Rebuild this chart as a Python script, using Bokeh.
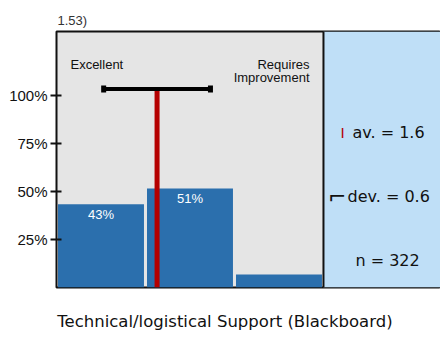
from bokeh.plotting import figure
from bokeh.models import Range1d, FixedTicker, BoxAnnotation, Span, ColumnDataSource
from bokeh.core.properties import value
from bokeh.embed import file_html
from bokeh.resources import INLINE

# data
categories = [1, 2, 3]
shares = [0.434, 0.516, 0.068]
share_labels = ["43%", "51%", ""]
mean_value = 1.63
std_value = 0.6
n_count = 322
tick_values = [0.25, 0.5, 0.75, 1.0]
tick_labels = {0.25: "25%", 0.5: "50%", 0.75: "75%", 1.0: "100%"}
title_text = "1.53)"
xlabel_text = "Technical/logistical Support (Blackboard)"
left_pole = "Excellent"
right_pole = ["Requires", "Improvement"]

FONT = "Liberation Sans"
FONT2 = "DejaVu Sans"
BAR = "#2b6fad"
RED = "#b50000"
GRAY = "#e5e5e5"
BLUE = "#bfdff7"
INK = "#111111"

p = figure(width=440, height=333, output_backend="svg", toolbar_location=None,
           x_range=Range1d(0.5, 4.815), y_range=Range1d(0, 1.333),
           min_border_left=56, min_border_right=0, min_border_top=31, min_border_bottom=46)
p.background_fill_color = GRAY
p.border_fill_color = "white"
p.grid.visible = False
p.outline_line_color = INK
p.outline_line_width = 2

p.title.text = title_text
p.title.text_font = FONT
p.title.text_font_size = "13px"
p.title.text_font_style = "normal"
p.title.text_color = "#333333"
p.title.offset = 1
p.title.standoff = 8

xax = p.xaxis[0]
xax.ticker = FixedTicker(ticks=[])
xax.major_tick_in = 0
xax.major_tick_out = 0
xax.minor_tick_line_color = None
xax.axis_line_color = None
xax.major_label_standoff = 0
# trailing no-break spaces shift the centred label to the left, as in the reference
xax.axis_label = xlabel_text + "\u00a0" * 9
xax.axis_label_text_font = FONT2
xax.axis_label_text_font_size = "16.5px"
xax.axis_label_text_font_style = "normal"
xax.axis_label_text_color = INK
xax.axis_label_standoff = 24

p.add_layout(BoxAnnotation(left=3.5, fill_color=BLUE, fill_alpha=1, line_color=None, level="underlay"))
p.add_layout(Span(location=3.5, dimension="height", line_color=INK, line_width=2))

yax = p.yaxis[0]
yax.ticker = FixedTicker(ticks=tick_values)
yax.major_label_overrides = tick_labels
yax.major_label_text_font = FONT
yax.major_label_text_font_size = "15px"
yax.major_label_text_color = INK
yax.major_tick_in = 5
yax.major_tick_out = 6
yax.major_tick_line_width = 2
yax.major_tick_line_color = INK
yax.minor_tick_line_color = None
yax.axis_line_color = None
yax.major_label_standoff = 3

src = ColumnDataSource(dict(x=categories, top=shares, lab=share_labels))
p.vbar(x="x", top="top", width=0.966, source=src, fill_color=BAR, line_color=None)
p.text(x="x", y="top", text="lab", source=src, text_color="white", text_align="center",
       text_baseline="top", y_offset=3, text_font=value(FONT), text_font_size="13px")

std_y = 1.033
p.segment(x0=[mean_value], y0=[0], x1=[mean_value], y1=[std_y], line_color=RED, line_width=5)
p.segment(x0=[mean_value - std_value], y0=[std_y], x1=[mean_value + std_value], y1=[std_y],
          line_color="black", line_width=4)
p.rect(x=[mean_value - std_value, mean_value + std_value], y=[std_y, std_y], width=5, height=7,
       width_units="screen", height_units="screen", fill_color="black", line_color=None)

p.text(x=[0.657], y=[1.161], text=[left_pole], text_baseline="middle", text_align="left",
       text_font=value(FONT), text_font_size="13px", text_color=INK)
p.text(x=[3.343, 3.343], y=[1.161, 1.094], text=right_pole, text_baseline="middle", text_align="right",
       text_font=value(FONT), text_font_size="13px", text_color=INK)

p.text(x=[3.69], y=[0.807], text=["I"], text_baseline="middle", text_align="left",
       text_font=value(FONT), text_font_size="15px", text_color=RED)
p.text(x=[3.826], y=[0.807], text=[f"av. = {mean_value:.1f}"], text_baseline="middle", text_align="left",
       text_font=value(FONT2), text_font_size="16px", text_color=INK)
p.text(x=[3.55], y=[0.474], text=["\u2310"], text_baseline="middle", text_align="left",
       text_font=value(FONT2), text_font_size="22px", text_color=INK)
p.text(x=[3.77], y=[0.474], text=["dev. = %.1f" % std_value], text_baseline="middle", text_align="left",
       text_font=value(FONT2), text_font_size="16px", text_color=INK)
p.text(x=[4.22], y=[0.141], text=[f"n = {n_count}"], text_baseline="middle", text_align="center",
       text_font=value(FONT2), text_font_size="16px", text_color=INK)

open("out.html", "w").write(file_html(p, INLINE))
